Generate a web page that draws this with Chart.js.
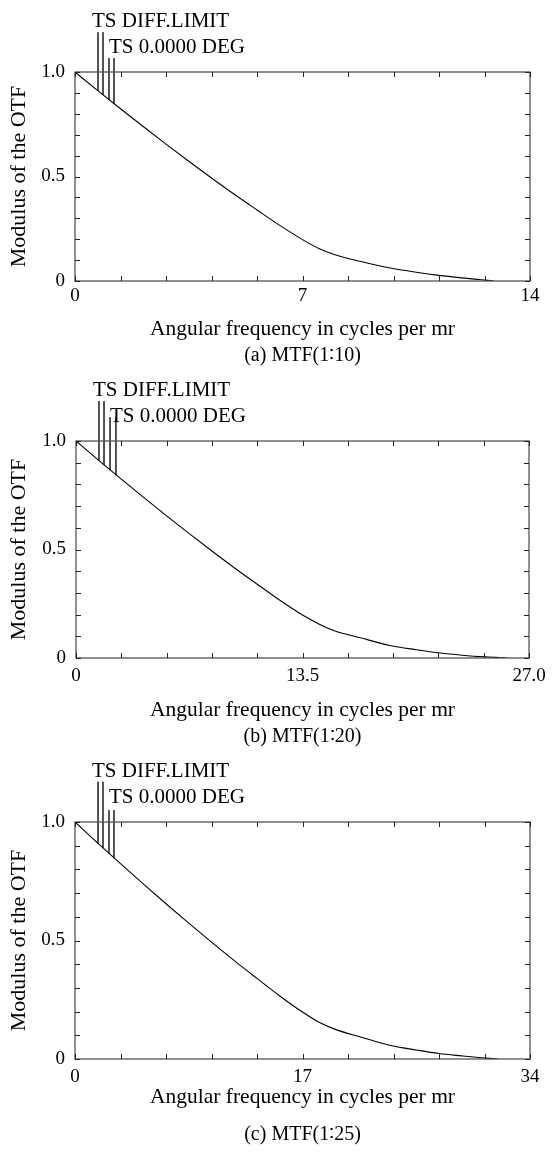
<!DOCTYPE html>
<html>
<head>
<meta charset="utf-8">
<script src="https://cdn.jsdelivr.net/npm/chart.js@4"></script>
<style>
  body { margin: 0; background: #fff; width: 556px; height: 1154px; position: relative; overflow: hidden; }
  canvas { position: absolute; left: 0; }
</style>
</head>
<body>
<canvas id="mtfA" width="556" height="372" style="top:0px"></canvas>
<canvas id="mtfB" width="556" height="380" style="top:372px"></canvas>
<canvas id="mtfC" width="556" height="402" style="top:752px"></canvas>
<script>
// values
const freqA = [0, 0.7, 1.4, 2.1, 2.8, 3.5, 4.2, 4.9, 5.6, 6.3, 7.0, 7.5, 8.0, 8.8, 9.7, 10.5, 11.2, 11.9, 12.5, 12.9];
const mtfA  = [1.0, 0.911, 0.824, 0.739, 0.655, 0.573, 0.493, 0.415, 0.34, 0.266, 0.198, 0.156, 0.126, 0.093, 0.062, 0.042, 0.027, 0.015, 0.006, 0];

const freqB = [0, 1.35, 2.7, 4.05, 5.4, 6.75, 8.1, 9.45, 10.8, 12.15, 13.5, 14.5, 15.4, 17.0, 18.7, 20.3, 21.7, 23.0, 24.4, 25.7];
const mtfB  = [1.0, 0.911, 0.824, 0.739, 0.655, 0.573, 0.493, 0.415, 0.34, 0.266, 0.198, 0.156, 0.126, 0.092, 0.058, 0.038, 0.023, 0.013, 0.005, 0];

const freqC = [0, 1.7, 3.4, 5.1, 6.8, 8.5, 10.2, 11.9, 13.6, 15.3, 17.0, 18.2, 19.4, 21.4, 23.5, 25.5, 27.2, 28.9, 30.4, 31.6];
const mtfC  = [1.0, 0.911, 0.824, 0.739, 0.655, 0.573, 0.493, 0.415, 0.34, 0.266, 0.198, 0.156, 0.126, 0.092, 0.058, 0.038, 0.023, 0.013, 0.005, 0];

// leader lines from the legend texts down to the curves (TS pairs)
const leaderXA = [0.708, 0.862, 1.046, 1.2];
const leaderTopA = [1.19, 1.19, 1.067, 1.067];
const leaderBotA = [0.91, 0.89, 0.867, 0.847];
const leaderXB = [1.37, 1.67, 2.03, 2.38];
const leaderTopB = [1.184, 1.184, 1.11, 1.11];
const leaderBotB = [0.909, 0.889, 0.865, 0.842];
const leaderXC = [1.72, 2.09, 2.54, 2.91];
const leaderTopC = [1.17, 1.17, 1.05, 1.05];
const leaderBotC = [0.909, 0.89, 0.866, 0.847];

const xMaxA = 14, xMaxB = 27, xMaxC = 34;
const xStepA = 1.4, xStepB = 2.7, xStepC = 3.4;
const xTickIdx = [0, 5, 10];
const xTickLabelsA = ['0', '7', '14'];
const xTickLabelsB = ['0', '13.5', '27.0'];
const xTickLabelsC = ['0', '17', '34'];
const yTickIdx = [0, 5, 10];
const yTickLabels = ['0', '0.5', '1.0'];

const legendLabels = ['TS DIFF.LIMIT', 'TS 0.0000 DEG'];
const xTitle = 'Angular frequency in cycles per mr';
const yTitle = 'Modulus of the OTF';
const captions = ['(a) MTF(1\u223610)', '(b) MTF(1\u223620)', '(c) MTF(1\u223625)'];

const serif = '"Liberation Serif", "Times New Roman", serif';
Chart.defaults.color = '#000';
Chart.defaults.font.family = serif;

// frame + inward tick marks + legend texts
const framePlugin = {
  id: 'frame',
  afterDraw(chart) {
    const ctx = chart.ctx, a = chart.chartArea;
    const xs = chart.scales.x, ys = chart.scales.y;
    ctx.save();
    ctx.strokeStyle = '#555';
    ctx.lineWidth = 1.3;
    ctx.strokeRect(a.left, a.top, a.right - a.left, a.bottom - a.top);
    ctx.strokeStyle = '#222';
    ctx.lineWidth = 1;
    ctx.beginPath();
    xs.ticks.forEach(t => {
      const px = Math.round(xs.getPixelForValue(t.value)) + 0.5;
      ctx.moveTo(px, a.bottom); ctx.lineTo(px, a.bottom - 5);
      ctx.moveTo(px, a.top); ctx.lineTo(px, a.top + 5);
    });
    ys.ticks.forEach(t => {
      const py = Math.round(ys.getPixelForValue(t.value)) + 0.5;
      ctx.moveTo(a.left, py); ctx.lineTo(a.left + 5, py);
      ctx.moveTo(a.right, py); ctx.lineTo(a.right - 5, py);
    });
    ctx.stroke();

    ctx.fillStyle = '#000';
    ctx.font = '21px ' + serif;
    ctx.textAlign = 'left';
    ctx.textBaseline = 'middle';
    ctx.fillText(legendLabels[0], a.left + 17, a.top - 51);
    ctx.fillText(legendLabels[1], a.left + 34, a.top - 25);
    ctx.restore();
  }
};

function makePanel(id, freq, mtf, lx, ltop, lbot, xMax, xStep, xLabels, caption, lay) {
  const datasets = [{
    data: freq.map((f, i) => ({ x: f, y: mtf[i] })),
    borderColor: '#000',
    borderWidth: 1.1,
    pointRadius: 0,
    showLine: true,
    cubicInterpolationMode: 'monotone'
  }];
  lx.forEach((x, i) => {
    datasets.push({
      data: [{ x: x, y: ltop[i] }, { x: x, y: lbot[i] }],
      borderColor: '#333',
      borderWidth: 0.9,
      pointRadius: 0,
      showLine: true,
      clip: false
    });
  });

  new Chart(document.getElementById(id), {
    type: 'scatter',
    data: { datasets: datasets },
    plugins: [framePlugin],
    options: {
      responsive: false,
      animation: false,
      layout: { padding: { left: 0, right: 556 - lay.right, top: lay.top, bottom: lay.padBottom } },
      plugins: {
        legend: { display: false },
        tooltip: { enabled: false },
        title: {
          display: true,
          text: caption,
          position: 'bottom',
          fullSize: false,
          color: '#000',
          font: { size: 20, weight: 'normal', lineHeight: 1 },
          padding: { top: lay.capPad, bottom: 0 }
        }
      },
      scales: {
        x: {
          type: 'linear',
          min: 0, max: xMax,
          border: { display: false },
          grid: { display: false, drawTicks: false },
          ticks: {
            stepSize: xStep,
            autoSkip: false,
            maxRotation: 0,
            padding: lay.tickPad,
            font: { size: 19, lineHeight: 1 },
            callback: (v, i) => {
              const k = xTickIdx.indexOf(i);
              return k >= 0 ? xLabels[k] : '';
            }
          },
          title: { display: true, text: xTitle, font: { size: 21.5, lineHeight: 1 }, padding: 0 },
          afterFit: s => { s.height = lay.xH; }
        },
        y: {
          min: 0, max: 1,
          border: { display: false },
          grid: { display: false, drawTicks: false },
          ticks: {
            stepSize: 0.1,
            autoSkip: false,
            padding: 10,
            font: { size: 19, lineHeight: 1 },
            callback: (v, i) => {
              const k = yTickIdx.indexOf(i);
              return k >= 0 ? yTickLabels[k] : '';
            }
          },
          title: { display: true, text: yTitle, font: { size: 22, lineHeight: 1 }, padding: { top: 8, bottom: 0 } },
          afterFit: s => { s.width = lay.left; }
        }
      }
    }
  });
}

makePanel('mtfA', freqA, mtfA, leaderXA, leaderTopA, leaderBotA, xMaxA, xStepA, xTickLabelsA, captions[0],
  { left: 75, right: 530, top: 72, tickPad: 6, xH: 59, capPad: 6, padBottom: 6 });
makePanel('mtfB', freqB, mtfB, leaderXB, leaderTopB, leaderBotB, xMaxB, xStepB, xTickLabelsB, captions[1],
  { left: 76, right: 529, top: 69, tickPad: 9, xH: 63, capPad: 6, padBottom: 5 });
makePanel('mtfC', freqC, mtfC, leaderXC, leaderTopC, leaderBotC, xMaxC, xStepC, xTickLabelsC, captions[2],
  { left: 75, right: 530, top: 70, tickPad: 9, xH: 49, capPad: 17, padBottom: 9 });
</script>
</body>
</html>
